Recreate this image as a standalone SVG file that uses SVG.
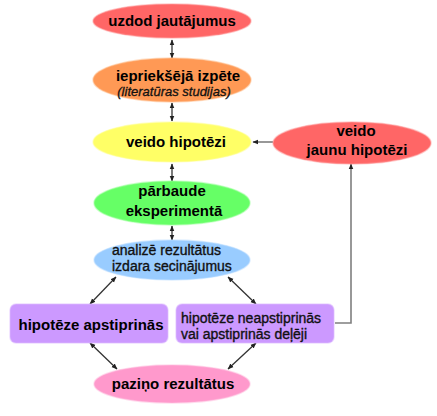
<svg xmlns="http://www.w3.org/2000/svg" width="437" height="416" viewBox="0 0 437 416">
<defs>
<style>
.t{font-family:"Liberation Sans",Arial,sans-serif;font-size:15px;font-weight:bold;fill:#000}
.r{font-family:"Liberation Sans",Arial,sans-serif;font-size:14px;fill:#111;stroke:#111;stroke-width:0.35}
.i{font-family:"Liberation Sans",Arial,sans-serif;font-size:13px;font-style:italic;fill:#111;stroke:#111;stroke-width:0.3}
.c{stroke:#333;stroke-width:1.3;fill:none;marker-start:url(#a);marker-end:url(#a)}
.g{stroke:#7f7f7f;stroke-width:1.6;fill:none;marker-end:url(#a)}
.sh{stroke-width:1.5;stroke-opacity:0.5}
</style>
<marker id="a" viewBox="0 0 10 10" refX="9" refY="5" markerWidth="6" markerHeight="6" orient="auto-start-reverse" markerUnits="userSpaceOnUse">
<path d="M0,1 L10,5 L0,9 Z" fill="#222"/>
</marker>
</defs>
<rect width="437" height="416" fill="#fff"/>
<g id="connectors">
<line class="c" x1="172" y1="40" x2="172" y2="58"/>
<line class="c" x1="172" y1="103" x2="172" y2="121"/>
<line class="c" x1="172" y1="164" x2="172" y2="181"/>
<line class="c" x1="172" y1="226" x2="172" y2="240"/>
<line class="c" x1="116" y1="277" x2="90" y2="304"/>
<line class="c" x1="228" y1="277" x2="256" y2="304"/>
<line class="c" x1="90" y1="343" x2="117" y2="369"/>
<line class="c" x1="256" y1="343" x2="228" y2="369"/>
<polyline class="g" points="335,323 351,323 351,164"/>
<line class="g" x1="273" y1="142" x2="253" y2="142"/>
</g>
<g id="n1"><ellipse cx="172" cy="21" rx="79" ry="17" fill="#ff6666" stroke="#ff9999" class="sh"/><text class="t" x="172" y="26" text-anchor="middle">uzdod jautājumus</text></g>
<g id="n2"><ellipse cx="172" cy="80" rx="79" ry="22" fill="#ff9955" stroke="#ffbb88" class="sh"/><text class="t" x="178" y="81" text-anchor="middle">iepriekšējā izpēte</text><text class="i" x="174" y="96" text-anchor="middle">(literatūras studijas)</text></g>
<g id="n3"><ellipse cx="172" cy="142" rx="79" ry="20" fill="#ffff66" stroke="#ffff99" class="sh"/><text class="t" x="176" y="147" text-anchor="middle">veido hipotēzi</text></g>
<g id="n4"><ellipse cx="172" cy="203" rx="78" ry="22" fill="#66ff66" stroke="#99ff99" class="sh"/><text class="t" x="172" y="196" text-anchor="middle">pārbaude</text><text class="t" x="174" y="216" text-anchor="middle">eksperimentā</text></g>
<g id="n5"><ellipse cx="172" cy="260" rx="78" ry="20" fill="#99ccff" stroke="#bbddff" class="sh"/><text class="r" x="112" y="255">analizē rezultātus</text><text class="r" x="112" y="271">izdara secinājumus</text></g>
<g id="n6"><ellipse cx="352" cy="143" rx="79" ry="21" fill="#ff6666" stroke="#ff9999" class="sh"/><text class="t" x="356" y="136" text-anchor="middle">veido</text><text class="t" x="357" y="155" text-anchor="middle">jaunu hipotēzi</text></g>
<g id="n7"><rect x="10" y="304" width="158" height="39" rx="6" fill="#cc99ff" stroke="#ddbbff" class="sh"/><text class="t" x="91" y="330" text-anchor="middle">hipotēze apstiprinās</text></g>
<g id="n8"><rect x="176" y="304" width="158" height="39" rx="6" fill="#cc99ff" stroke="#ddbbff" class="sh"/><text class="r" x="181" y="323">hipotēze neapstiprinās</text><text class="r" x="181" y="339">vai apstiprinās deļēji</text></g>
<g id="n9"><ellipse cx="172" cy="384" rx="78" ry="19" fill="#ff99cc" stroke="#ffbbdd" class="sh"/><text class="t" x="173" y="389" text-anchor="middle">paziņo rezultātus</text></g>
</svg>
